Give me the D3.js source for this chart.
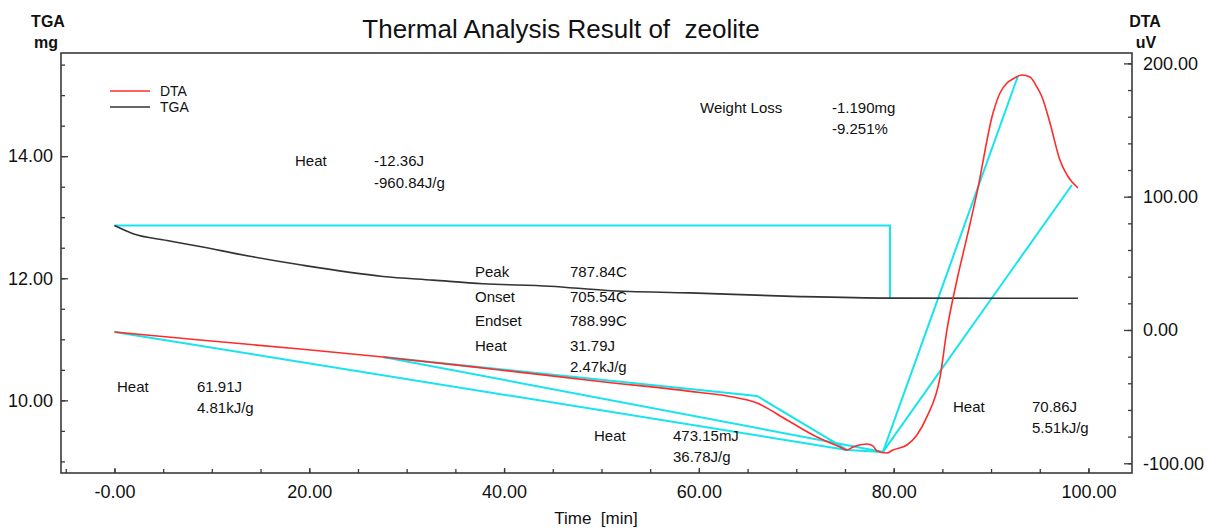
<!DOCTYPE html>
<html>
<head>
<meta charset="utf-8">
<script src="https://cdn.jsdelivr.net/npm/d3@7"></script>
<style>
  html, body { margin: 0; padding: 0; background: #fff; }
  svg text { font-family: "Liberation Sans", Arial, sans-serif; fill: #111; }
</style>
</head>
<body>
<svg id="chart" width="1207" height="528"></svg>
<script>
// ---- axis ticks ----
const timeTicks = [0, 20, 40, 60, 80, 100];
const timeTickLabels = ["-0.00", "20.00", "40.00", "60.00", "80.00", "100.00"];
const tgaTicks = [10, 12, 14];
const tgaTickLabels = ["10.00", "12.00", "14.00"];
const dtaTicks = [-100, 0, 100, 200];
const dtaTickLabels = ["-100.00", "0.00", "100.00", "200.00"];

// ---- TGA curve: time [min] vs mass [mg] ----
const tgaTime = [0, 1.9, 5.39, 8.78, 13.91, 19.05, 27.57, 32.7, 37.83, 44.71, 50.56, 59.09, 70.38, 79.62, 98.92];
const tgaMass = [12.863, 12.73, 12.62, 12.52, 12.36, 12.22, 12.03, 11.97, 11.91, 11.87, 11.80, 11.76, 11.70, 11.675, 11.673];

// ---- DTA curve: time [min] vs signal [uV] ----
const dtaTime = [0, 8.78, 19.05, 27.57, 39.58, 49.85, 60.11, 63.19, 65.96, 69.04, 72.12, 74.49, 75.21, 75.82, 77.26, 77.87,
  78.28, 79.31, 79.93, 81.36, 82.39, 83.42, 84.75, 85.47, 86.5, 87.53, 88.55, 90.2, 90.92, 91.63, 92.25, 93.17, 93.99,
  94.71, 95.23, 96.05, 97.07, 97.79, 98.92];
const dtaSignal = [-1.5, -7.5, -14.25, -20.25, -30.0, -38.6, -46.9, -49.9, -54.8, -67.5, -80.3, -87.8, -90.0, -87.8, -85.5, -87.0,
  -90.8, -92.3, -90.0, -86.3, -78.8, -65.0, -36.0, 0, 37.5, 69.8, 102.8, 162.8, 177.8, 185.3, 188.3, 191.3, 189.8,
  182.3, 174.8, 155.3, 127.5, 116.3, 106.5];

// ---- peak evaluation lines on the DTA curve ([time, uV] pairs) ----
const baselineLong = [[0, -1.5], [75.21, -90.0]];
const baselineMid = [[27.57, -20.25], [78.9, -91.5]];
const tangentOnset = [[27.57, -20.25], [65.96, -49.5], [75.21, -90.0]];
const baselineFoot = [[75.21, -90.0], [78.9, -91.5]];
const riseToPeak = [[78.9, -91.5], [92.76, 190.5]];
const riseToEnd = [[78.9, -91.5], [98.3, 108.8]];

// ---- weight-loss step on the TGA curve ([time, mg] pairs) ----
const weightStep = [[0, 12.863], [79.62, 12.863], [79.62, 11.675]];

// ---- legend ----
const legendNames = ["DTA", "TGA"];
const legendColors = ["#ff2b2b", "#333333"];

const svg = d3.select("#chart");
const W = 1207, H = 528;
const plotLeft = 61, plotRight = 1132, plotTop = 53, plotBottom = 473;

const x = d3.scaleLinear().domain([-5.49, 104.47]).range([plotLeft, plotRight]);
const yTga = d3.scaleLinear().domain([8.81, 15.69]).range([plotBottom, plotTop]);
const yDta = d3.scaleLinear().domain([-107.3, 207.8]).range([plotBottom, plotTop]);

const red = "#ff2b2b", cyan = "#16e4ee", dark = "#333333", axisColor = "#3a3a3a";

svg.append("rect").attr("width", W).attr("height", H).attr("fill", "#fff");

// frame
svg.append("rect")
  .attr("x", plotLeft).attr("y", plotTop)
  .attr("width", plotRight - plotLeft).attr("height", plotBottom - plotTop)
  .attr("fill", "none").attr("stroke", axisColor).attr("stroke-width", 1.6);

function styleAxis(g) {
  g.select(".domain").remove();
  g.selectAll(".tick line").attr("stroke", axisColor).attr("stroke-width", 1.3);
  g.selectAll(".tick text").attr("fill", "#111").style("font-size", "18px")
    .style("font-family", "'Liberation Sans', Arial, sans-serif");
}

// bottom axis
const bottomMinor = d3.range(-5, 105, 5);
svg.append("g").attr("transform", `translate(0,${plotBottom})`)
  .call(d3.axisBottom(x).tickValues(bottomMinor).tickSize(-4).tickFormat(""))
  .call(styleAxis);
svg.append("g").attr("transform", `translate(0,${plotBottom})`)
  .call(d3.axisBottom(x).tickValues(timeTicks).tickSize(-5).tickPadding(12)
    .tickFormat((d, i) => timeTickLabels[i]))
  .call(styleAxis);

// left axis (TGA)
const leftMinor = d3.range(9, 15.6, 0.5);
svg.append("g").attr("transform", `translate(${plotLeft},0)`)
  .call(d3.axisLeft(yTga).tickValues(leftMinor).tickSize(-4).tickFormat(""))
  .call(styleAxis);
svg.append("g").attr("transform", `translate(${plotLeft},0)`)
  .call(d3.axisLeft(yTga).tickValues(tgaTicks).tickSize(-7).tickPadding(8)
    .tickFormat((d, i) => tgaTickLabels[i]))
  .call(styleAxis);

// right axis (DTA)
const rightMinor = d3.range(-100, 201, 20);
svg.append("g").attr("transform", `translate(${plotRight},0)`)
  .call(d3.axisRight(yDta).tickValues(rightMinor).tickSize(-4).tickFormat(""))
  .call(styleAxis);
svg.append("g").attr("transform", `translate(${plotRight},0)`)
  .call(d3.axisRight(yDta).tickValues(dtaTicks).tickSize(-8).tickPadding(11)
    .tickFormat((d, i) => dtaTickLabels[i]))
  .call(styleAxis);

// text helper
function label(txt, px, py, opts = {}) {
  const t = svg.append("text").attr("x", px).attr("y", py).text(txt)
    .style("font-size", (opts.size || 15) + "px")
    .style("white-space", "pre")
    .attr("text-anchor", opts.anchor || "start");
  if (opts.weight) t.style("font-weight", opts.weight);
  return t;
}

// axis titles
label("TGA", 48, 27, { size: 16, anchor: "middle", weight: "bold" });
label("mg", 46, 48, { size: 16, anchor: "middle", weight: "bold" });
label("DTA", 1145, 27, { size: 16, anchor: "middle", weight: "bold" });
label("uV", 1146, 48, { size: 16, anchor: "middle", weight: "bold" });
label("Thermal Analysis Result of  zeolite", 561, 38, { size: 26, anchor: "middle" });
label("Time  [min]", 596, 524, { size: 17, anchor: "middle" });

const plot = svg.append("g");

// weight-loss step
const lineTga = d3.line().x(d => x(d[0])).y(d => yTga(d[1]));
plot.append("path").attr("d", lineTga(weightStep))
  .attr("fill", "none").attr("stroke", cyan).attr("stroke-width", 2);

// DTA evaluation lines
const lineDtaPts = d3.line().x(d => x(d[0])).y(d => yDta(d[1]));
[baselineLong, baselineMid, tangentOnset, baselineFoot, riseToPeak, riseToEnd].forEach(seg => {
  plot.append("path").attr("d", lineDtaPts(seg))
    .attr("fill", "none").attr("stroke", cyan).attr("stroke-width", 2);
});

// TGA curve
const tgaPts = tgaTime.map((t, i) => [t, tgaMass[i]]);
plot.append("path")
  .attr("d", d3.line().x(d => x(d[0])).y(d => yTga(d[1])).curve(d3.curveMonotoneX)(tgaPts))
  .attr("fill", "none").attr("stroke", dark).attr("stroke-width", 1.6);

// DTA curve
const dtaPts = dtaTime.map((t, i) => [t, dtaSignal[i]]);
plot.append("path")
  .attr("d", d3.line().x(d => x(d[0])).y(d => yDta(d[1])).curve(d3.curveMonotoneX)(dtaPts))
  .attr("fill", "none").attr("stroke", red).attr("stroke-width", 1.6);

// legend
legendNames.forEach((name, i) => {
  const ly = 91 + i * 16;
  svg.append("line").attr("x1", 110).attr("x2", 150).attr("y1", ly).attr("y2", ly)
    .attr("stroke", legendColors[i]).attr("stroke-width", 1.6);
  label(name, 160, ly + 5, { size: 14 });
});

// evaluation results
label("Weight Loss", 700, 113);
label("-1.190mg", 832, 113);
label("-9.251%", 832, 134);

label("Heat", 295, 166);
label("-12.36J", 374, 166);
label("-960.84J/g", 374, 188);

label("Peak", 475, 277);
label("787.84C", 570, 277);
label("Onset", 475, 302);
label("705.54C", 570, 302);
label("Endset", 475, 326);
label("788.99C", 570, 326);
label("Heat", 475, 351);
label("31.79J", 570, 351);
label("2.47kJ/g", 570, 372);

label("Heat", 117, 392);
label("61.91J", 197, 392);
label("4.81kJ/g", 197, 413);

label("Heat", 594, 441);
label("473.15mJ", 673, 441);
label("36.78J/g", 673, 462);

label("Heat", 953, 412);
label("70.86J", 1032, 412);
label("5.51kJ/g", 1032, 433);
</script>
</body>
</html>
